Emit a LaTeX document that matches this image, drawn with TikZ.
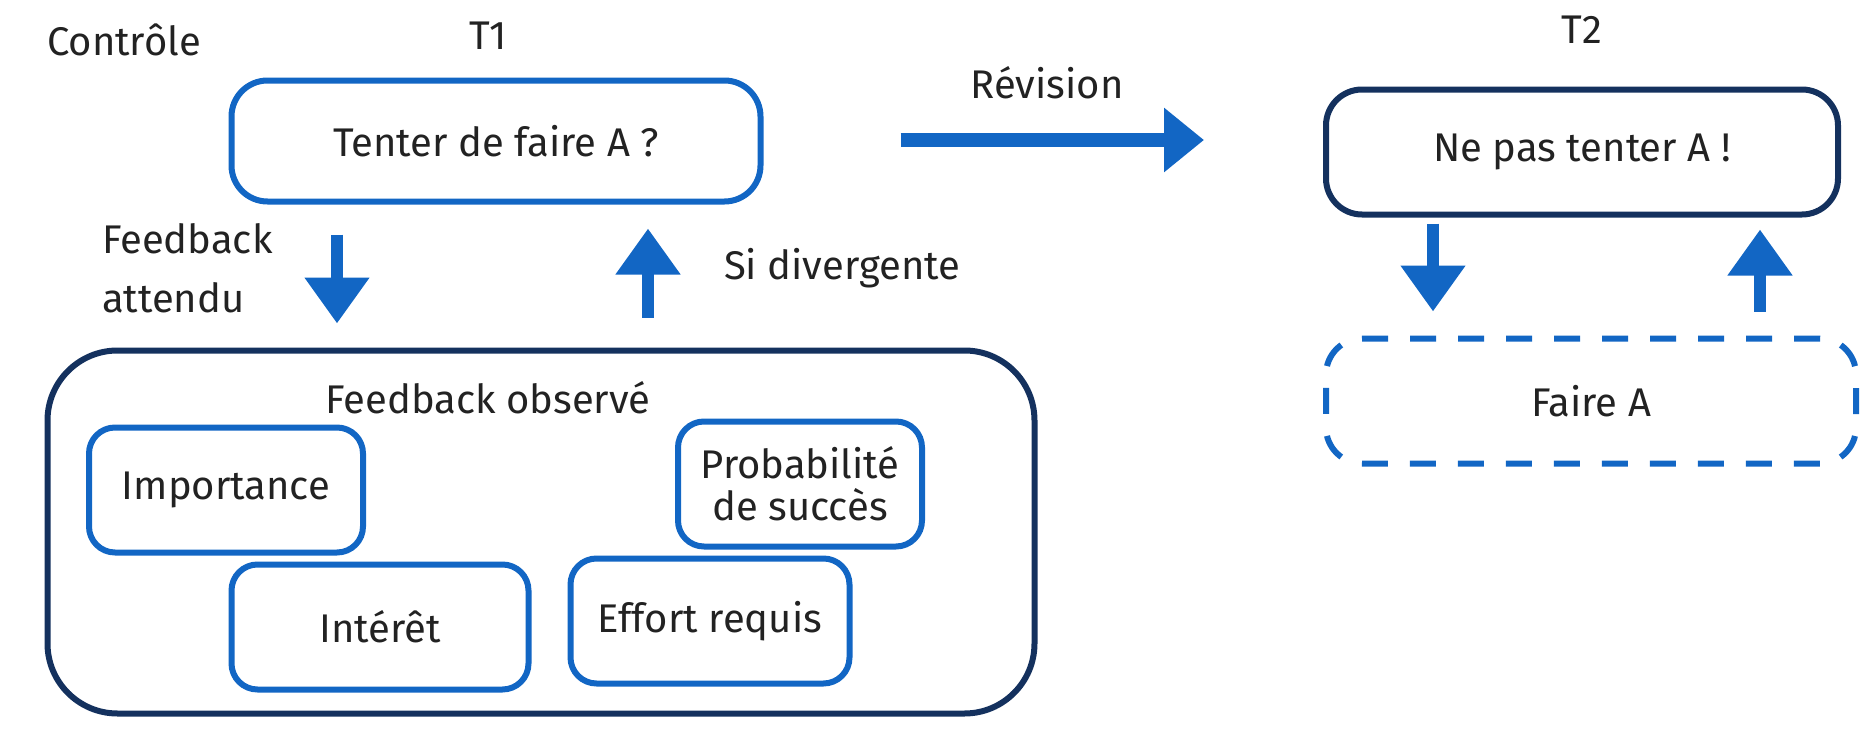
\documentclass[tikz,border=0pt]{standalone}
\usepackage{fontspec}
\setmainfont{Fira Sans}
\usetikzlibrary{arrows.meta,calc}
\definecolor{bl}{HTML}{1266C4}
\definecolor{nv}{HTML}{14315E}
\definecolor{tx}{HTML}{222222}
\begin{document}
\begin{tikzpicture}[x=0.5pt,y=-0.5pt,
  txt/.style={font=\fontsize{20}{24}\selectfont, text=tx},
  bluebox/.style={txt, draw=bl, line width=3pt, rounded corners=13pt, align=center, inner sep=0pt},
  navybox/.style={txt, draw=nv, line width=3pt, rounded corners=18pt, align=center, inner sep=0pt},
  dashbox/.style={txt, draw=bl, line width=3pt, dash pattern=on 13pt off 11pt, rounded corners=18pt, align=center, inner sep=0pt},
  varrow/.style={draw=bl, line width=6pt, -{Triangle[width=31pt,length=23pt]}},
  harrow/.style={draw=bl, line width=7pt, -{Triangle[width=31pt,length=20pt]}}
]
\useasboundingbox (0,0) rectangle (1865,739);

% Main boxes
\node[bluebox, rounded corners=18pt, minimum width=264.5pt, minimum height=60.5pt] (tenter) at (496,141) {Tenter de faire A ?};
\node[navybox, minimum width=256pt, minimum height=62.5pt] (nepas) at (1582,152) {Ne pas tenter A !};
\node[dashbox, minimum width=265pt, minimum height=62.5pt] (faire) at (1591,401) {Faire A};
\node[navybox, rounded corners=35pt, minimum width=493.5pt, minimum height=181.5pt] (big) at (541,532) {};

% Inner boxes
\node[bluebox, minimum width=137pt, minimum height=62.5pt] (imp) at (226,490) {Importance};
\node[bluebox, minimum width=122pt, minimum height=62.5pt, font=\fontsize{20}{21}\selectfont] (prob) at (800,484) {Probabilité\\de succès};
\node[bluebox, minimum width=148.5pt, minimum height=62.5pt] (inter) at (380,627) {Intérêt};
\node[bluebox, minimum width=139.5pt, minimum height=62.5pt] (effort) at (710,621) {Effort requis};

% Labels
\node[txt, anchor=west] (ctrl) at (40,40) {Contrôle};
\node[txt] (t1) at (488,36) {T1};
\node[txt] (t2) at (1582,30) {T2};
\node[txt] (rev) at (1047,83) {Révision};
\node[txt, anchor=west, align=left, font=\fontsize{20}{29.5}\selectfont] (fa) at (95,268) {Feedback\\attendu};
\node[txt, anchor=west] (sidiv) at (717,268) {Si divergente};
\node[txt] (fobs) at (488,398) {Feedback observé};

% Arrows
\draw[varrow] ($(tenter.south)+(-159,30)$) -- ($(big.north)+(-204,-24)$);
\draw[varrow] ($(big.north)+(107,-30)$) -- ($(tenter.south)+(152,24)$);
\draw[harrow] ($(tenter.east)+(137,-1)$) -- ($(nepas.west)+(-119,-12)$);
\draw[varrow] ($(nepas.south)+(-149,6)$) -- ($(faire.north)+(-158,-24)$);
\draw[varrow] ($(faire.north)+(169,-24)$) -- ($(nepas.south)+(178,12)$);
\end{tikzpicture}
\end{document}
